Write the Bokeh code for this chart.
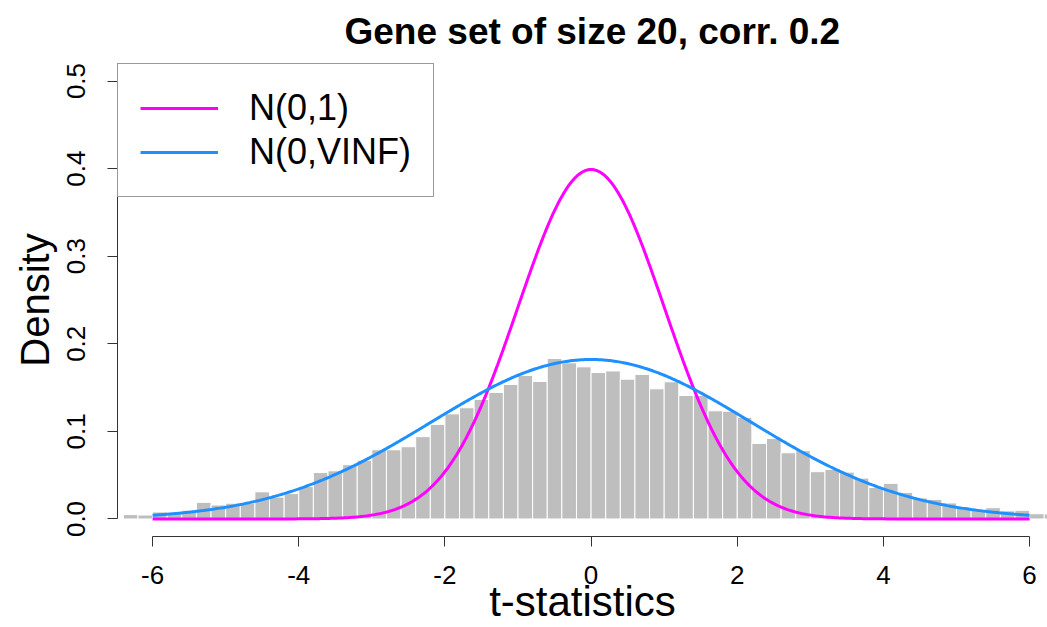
import numpy as np
from bokeh.plotting import figure
from bokeh.models import (Range1d, FixedTicker, PrintfTickFormatter, Legend, LegendItem, Title)
from bokeh.embed import file_html
from bokeh.resources import INLINE

# ---- data ----
title_text = "Gene set of size 20, corr. 0.2"
x_label = "t-statistics"
y_label = "Density"
bin_width = 0.2
bin_lefts = np.round(np.arange(-6.4, 6.2 + 1e-9, bin_width), 1)
density = [
    0.005, 0.0045, 0.008, 0.007, 0.010, 0.019, 0.016, 0.018,
    0.018, 0.031, 0.025, 0.029, 0.037, 0.053, 0.055, 0.062,
    0.067, 0.079, 0.079, 0.0825, 0.094, 0.108, 0.120, 0.127,
    0.1365, 0.1444, 0.1536, 0.1638, 0.157, 0.1832, 0.1783, 0.1737,
    0.1672, 0.169, 0.1596, 0.165, 0.1486, 0.1566, 0.141, 0.141,
    0.1235, 0.123, 0.116, 0.0863, 0.092, 0.0756, 0.078, 0.054,
    0.0567, 0.0535, 0.0467, 0.036, 0.0407, 0.0304, 0.024, 0.0224,
    0.0183, 0.0136, 0.0097, 0.0129, 0.0093, 0.0099, 0.006, 0.0057,
]
VINF = 4.8  # variance of the inflated null
curve_x = np.linspace(-6, 6, 601)
x_ticks = [-6, -4, -2, 0, 2, 4, 6]
y_ticks = [0.0, 0.1, 0.2, 0.3, 0.4, 0.5]
legend_labels = ["N(0,1)", "N(0,VINF)"]


def norm_pdf(x, var):
    return np.exp(-x ** 2 / (2 * var)) / np.sqrt(2 * np.pi * var)


FONT = "Liberation Sans"

p = figure(width=1047, height=627, output_backend="svg", toolbar_location=None,
           x_range=Range1d(-6.48, 6.245), y_range=Range1d(-0.02, 0.52),
           min_border_left=117, min_border_right=0, min_border_top=63,
           min_border_bottom=90)

p.add_layout(Title(text=title_text, align="left", offset=227, standoff=19,
                   vertical_align="top",
                   text_font=FONT, text_font_size="37px", text_font_style="bold",
                   text_color="black"), "above")

p.outline_line_color = None
p.xgrid.visible = False
p.ygrid.visible = False
p.background_fill_color = "white"
p.border_fill_color = "white"

lefts = bin_lefts
rights = bin_lefts + bin_width
p.quad(left=lefts, right=rights, bottom=0, top=density,
       fill_color="#BEBEBE", line_color="white", line_width=1)

r1 = p.line(curve_x, norm_pdf(curve_x, 1.0), line_color="#FF00FF", line_width=3)
r2 = p.line(curve_x, norm_pdf(curve_x, VINF), line_color="#1E90FF", line_width=3)

for ax in (p.xaxis[0], p.yaxis[0]):
    ax.axis_line_color = "#333333"
    ax.major_tick_line_color = "#333333"
    ax.major_tick_out = 10
    ax.major_tick_in = 0
    ax.minor_tick_line_color = None
    ax.major_label_text_font = FONT
    ax.major_label_text_font_size = "26px"
    ax.major_label_text_color = "black"
    ax.axis_label_text_font = FONT
    ax.axis_label_text_font_style = "normal"
    ax.axis_label_text_color = "black"

p.xaxis[0].ticker = FixedTicker(ticks=x_ticks)
p.xaxis[0].formatter = PrintfTickFormatter(format="%d")
p.xaxis[0].bounds = (-6, 6)
p.xaxis[0].axis_label = x_label
p.xaxis[0].axis_label_text_font_size = "42px"
p.xaxis[0].major_label_standoff = 19
p.xaxis[0].axis_label_standoff = -9

p.yaxis[0].ticker = FixedTicker(ticks=y_ticks)
p.yaxis[0].formatter = PrintfTickFormatter(format="%.1f")
p.yaxis[0].bounds = (0, 0.5)
p.yaxis[0].axis_label = y_label
p.yaxis[0].axis_label_text_font_size = "40px"
p.yaxis[0].major_label_orientation = "vertical"
p.yaxis[0].major_label_standoff = 22
p.yaxis[0].axis_label_standoff = 8

legend = Legend(items=[LegendItem(label=legend_labels[0], renderers=[r1]),
                       LegendItem(label=legend_labels[1], renderers=[r2])],
                location="top_left", margin=0, padding=22, spacing=0,
                glyph_width=78, glyph_height=44, label_height=44,
                label_standoff=31,
                label_text_font=FONT, label_text_font_size="36px",
                label_text_color="black",
                border_line_color="#333333", border_line_width=1,
                background_fill_color="white", background_fill_alpha=1.0)
p.add_layout(legend)

open("out.html", "w").write(file_html(p, INLINE))
